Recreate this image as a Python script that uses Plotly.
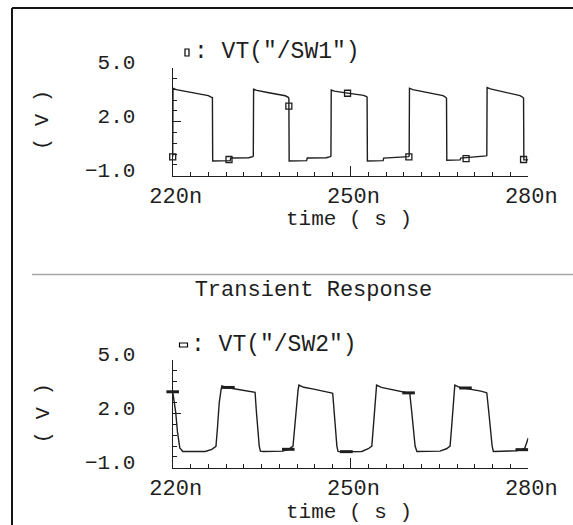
import plotly.graph_objects as go

# ---------------- data ----------------
sw1_name = 'VT("/SW1")'
sw2_name = 'VT("/SW2")'

sw1_t = [220.0, 220.05, 220.6, 222.5, 224.5, 226.0, 226.5, 226.7,
         226.75, 229.7, 229.8, 232.8, 233.5, 233.6,
         233.65, 234.2, 236.0, 238.0, 239.0, 239.5, 239.6,
         239.65, 242.6, 242.7, 245.9, 246.6, 246.7,
         246.75, 247.3, 249.2, 251.0, 252.2, 252.7, 252.8,
         252.85, 255.5, 255.6, 259.0, 259.8, 259.9,
         259.95, 260.5, 262.5, 264.5, 265.6, 266.1, 266.2,
         266.25, 268.5, 268.6, 272.0, 272.9, 273.0,
         273.05, 273.6, 275.5, 277.3, 278.6, 279.1, 279.2,
         279.25, 280.0]
sw1_v = [0.05, 3.86, 3.78, 3.66, 3.55, 3.45, 3.36, 3.33,
         -0.18, -0.16, -0.02, 0.0, 0.06, 0.1,
         3.80, 3.74, 3.62, 3.52, 3.44, 3.35, 3.30,
         -0.18, -0.16, -0.02, 0.0, 0.06, 0.1,
         3.76, 3.70, 3.60, 3.52, 3.46, 3.40, 3.37,
         -0.18, -0.16, -0.02, 0.02, 0.06, 0.1,
         3.86, 3.78, 3.66, 3.55, 3.45, 3.35, 3.30,
         -0.14, -0.12, -0.02, 0.05, 0.1, 0.12,
         3.90, 3.82, 3.68, 3.56, 3.45, 3.35, 3.30,
         -0.12, -0.12]

sw1_mark_t = [220.0, 229.5, 239.6, 249.5, 259.85, 269.5, 279.2]
sw1_mark_v = [0.05, -0.1, 2.87, 3.58, 0.05, -0.05, -0.1]

sw2_t = [220.0, 220.5, 220.8, 221.2, 221.7,
         225.5, 226.6, 227.3, 227.55, 227.85, 228.15, 228.3,
         229.1, 230.8, 232.7, 233.8, 233.9, 234.1, 234.35, 234.6, 234.8,
         235.3, 238.6, 239.7, 240.3, 240.55, 240.85, 241.15, 241.3,
         242.1, 243.8, 245.8, 246.9, 247.0, 247.2, 247.45, 247.7, 247.9,
         248.4, 251.9, 253.0, 253.6, 253.85, 254.1, 254.3, 254.4,
         255.2, 256.9, 258.8, 259.9, 260.0, 260.3, 260.6, 260.9, 261.2,
         261.7, 265.1, 266.2, 266.8, 267.05, 267.3, 267.5, 267.6,
         268.4, 270.1, 272.0, 272.9, 273.0, 273.3, 273.6, 273.9, 274.1,
         274.6, 278.0, 278.9, 279.4, 280.0]
sw2_v = [3.22, 2.1, 1.0, 0.1, -0.1,
         -0.1, 0.02, 0.18, 1.2, 2.6, 3.3, 3.53,
         3.45, 3.36, 3.26, 3.2, 3.18, 2.2, 1.0, 0.2, -0.08,
         -0.1, -0.08, 0.05, 0.2, 1.2, 2.6, 3.3, 3.58,
         3.46, 3.36, 3.24, 3.14, 3.12, 2.2, 1.0, 0.2, -0.1,
         -0.12, -0.1, 0.05, 0.2, 1.2, 2.6, 3.3, 3.58,
         3.45, 3.34, 3.21, 3.14, 3.12, 2.2, 1.0, 0.2, -0.1,
         -0.1, -0.08, 0.05, 0.2, 1.2, 2.6, 3.3, 3.58,
         3.45, 3.36, 3.25, 3.16, 3.14, 2.2, 1.0, 0.2, -0.1,
         -0.1, -0.06, 0.0, 0.08, 0.65]

sw2_mark_t = [220.0, 229.4, 239.5, 249.3, 259.8, 269.4, 278.9]
sw2_mark_v = [3.21, 3.45, 0.02, -0.11, 3.15, 3.42, 0.0]

x_tickvals = [220, 250, 280]
x_ticktext = ["220n", "250n", "280n"]
y_tickvals = [-1, 2, 5]
y_ticktext = ["\u22121.0", "2.0", "5.0"]

title_text = "Transient Response"
x_title = "time ( s )"
y_title = "( V )"

# ---------------- figure ----------------
W, H = 573, 525
FONT = "Liberation Mono"
INK = "#1e1e1e"

def px(x):
    return x / W

def py(y):
    return 1 - y / H

fig = go.Figure()

fig.add_trace(go.Scatter(x=sw1_t, y=sw1_v, mode="lines", name=sw1_name,
                         line=dict(color=INK, width=1.4), xaxis="x", yaxis="y",
                         showlegend=False))
fig.add_trace(go.Scatter(x=sw1_mark_t, y=sw1_mark_v, mode="markers",
                         marker=dict(symbol="square-open", size=6, color=INK,
                                     line=dict(color=INK, width=1.3)),
                         xaxis="x", yaxis="y", showlegend=False, cliponaxis=False))
fig.add_trace(go.Scatter(x=sw2_t, y=sw2_v, mode="lines", name=sw2_name,
                         line=dict(color=INK, width=1.4), xaxis="x2", yaxis="y2",
                         showlegend=False))
fig.add_trace(go.Scatter(x=sw2_mark_t, y=sw2_mark_v, mode="markers",
                         marker=dict(symbol="line-ew", size=9, color=INK,
                                     line=dict(color=INK, width=3)),
                         xaxis="x2", yaxis="y2", showlegend=False, cliponaxis=False))

xdom = [px(172.7), px(528.3)]
xaxis_common = dict(
    range=[220, 280], domain=xdom, showline=True, linecolor=INK, linewidth=1.3,
    showgrid=False, zeroline=False, ticks="inside", tickvals=x_tickvals,
    ticktext=x_ticktext, ticklen=10, tickwidth=1.3, tickcolor=INK,
    tickfont=dict(family=FONT, size=22, color=INK),
    ticklabelstandoff=0, ticklabelshift=3, automargin=False,
    minor=dict(dtick=3, tick0=220, ticks="inside", ticklen=4, tickwidth=1,
               tickcolor=INK, showgrid=False),
    fixedrange=True,
)
yaxis_common = dict(
    range=[-1, 5], showline=True, linecolor=INK, linewidth=1.3,
    showgrid=False, zeroline=False, ticks="inside", tickvals=y_tickvals,
    ticktext=y_ticktext, ticklen=8, tickwidth=1.3, tickcolor=INK,
    tickfont=dict(family=FONT, size=21, color=INK),
    ticklabelstandoff=32, ticklabelshift=-6, automargin=False,
    minor=dict(dtick=0.6, tick0=-1, ticks="inside", ticklen=4, tickwidth=1,
               tickcolor=INK, showgrid=False),
    fixedrange=True,
)

fig.update_layout(
    width=W, height=H,
    margin=dict(l=0, r=0, t=0, b=0, pad=0, autoexpand=False),
    paper_bgcolor="white", plot_bgcolor="white",
    font=dict(family=FONT, color=INK),
    xaxis=dict(anchor="y", **xaxis_common),
    yaxis=dict(anchor="x", domain=[py(175.7), py(67.7)], **yaxis_common),
    xaxis2=dict(anchor="y2", **xaxis_common),
    yaxis2=dict(anchor="x2", domain=[py(467.7), py(359.5)], **yaxis_common),
    title=dict(text=title_text, x=px(313.5), y=py(288.3), xanchor="center",
               yanchor="middle", xref="paper", yref="container",
               font=dict(family=FONT, size=22, color=INK)),
    showlegend=False,
)

annos = [
    # legends
    dict(x=px(192), y=py(51.7), text=": " + sw1_name, xanchor="left",
         font=dict(family=FONT, size=23, color=INK)),
    dict(x=px(189), y=py(345), text=": " + sw2_name, xanchor="left",
         font=dict(family=FONT, size=23, color=INK)),
    # axis titles
    dict(x=px(43), y=py(120), text=y_title, textangle=-90,
         font=dict(family=FONT, size=20, color=INK)),
    dict(x=px(43), y=py(413.3), text=y_title, textangle=-90,
         font=dict(family=FONT, size=20, color=INK)),
    dict(x=px(349), y=py(219), text=x_title, font=dict(family=FONT, size=21, color=INK)),
    dict(x=px(349), y=py(512), text=x_title, font=dict(family=FONT, size=21, color=INK)),
]
for a in annos:
    a.setdefault("xanchor", "center")
    a.update(xref="paper", yref="paper", yanchor="middle", showarrow=False)
    fig.add_annotation(**a)

# legend glyphs (small hollow rectangles, as in the reference legend)
fig.add_shape(type="rect", xref="paper", yref="paper",
              x0=px(185), x1=px(189), y0=py(56), y1=py(49),
              line=dict(color="#000000", width=1.2), fillcolor="rgba(0,0,0,0)")
fig.add_shape(type="rect", xref="paper", yref="paper",
              x0=px(179.5), x1=px(187.5), y0=py(347), y1=py(343),
              line=dict(color="#000000", width=1.2), fillcolor="rgba(0,0,0,0)")

# frame and separator
fig.add_shape(type="line", xref="paper", yref="paper", x0=px(12), x1=px(12),
              y0=-0.02, y1=py(8), line=dict(color="#151515", width=2))
fig.add_shape(type="line", xref="paper", yref="paper", x0=px(12), x1=1.02,
              y0=py(8), y1=py(8), line=dict(color="#151515", width=2))
fig.add_shape(type="line", xref="paper", yref="paper", x0=px(32), x1=1.02,
              y0=py(274.5), y1=py(274.5), line=dict(color="#a8a8a8", width=1.5))

fig.write_html("out.html", config={"displayModeBar": False},
               post_script="document.body.style.margin='0';document.body.style.overflow='hidden';")
